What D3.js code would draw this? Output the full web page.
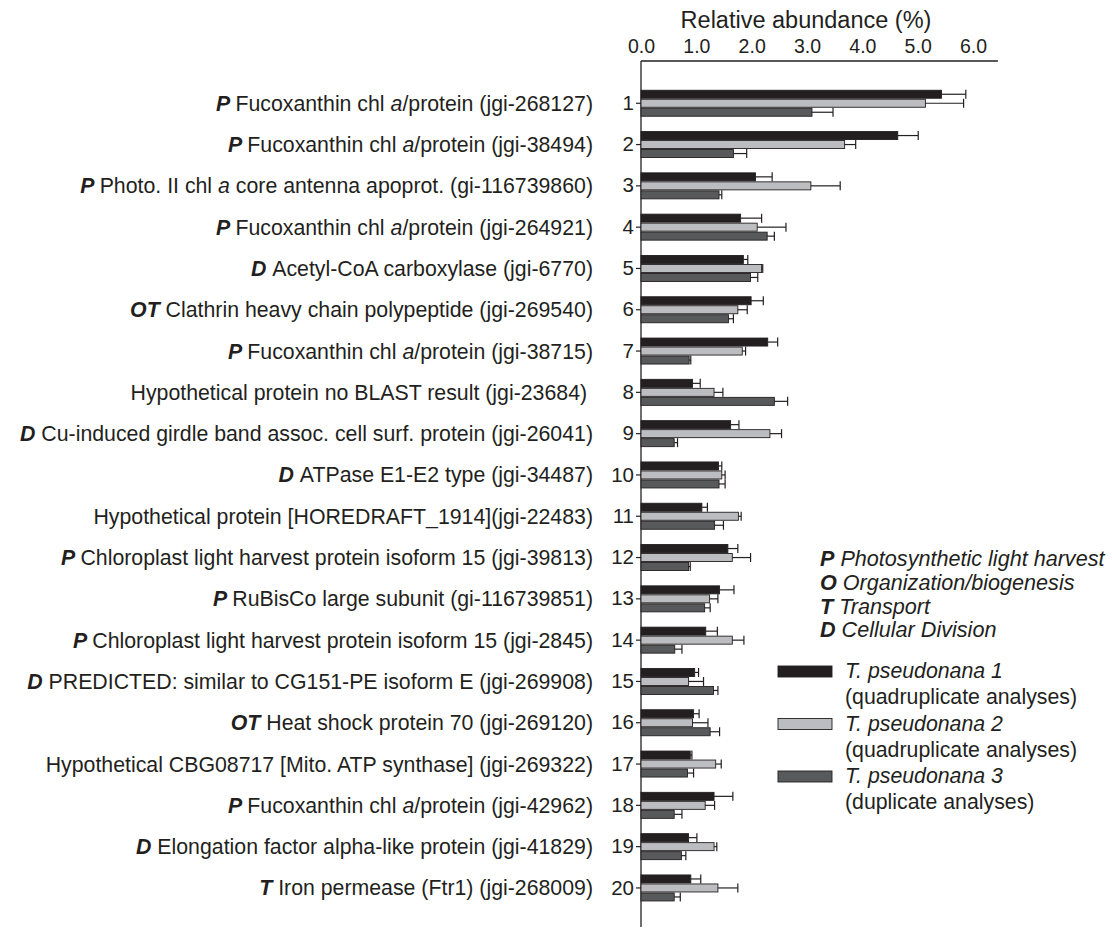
<!DOCTYPE html>
<html>
<head>
<meta charset="utf-8">
<script src="https://cdn.jsdelivr.net/npm/d3@7"></script>
<style>
  body { margin: 0; background: #fff; }
  svg { display: block; }
  text { font-family: "Liberation Sans", Arial, Helvetica, sans-serif; fill: #231f20; }
</style>
</head>
<body>
<svg id="chart"></svg>
<script>
// row numbers, category codes and protein names (asterisks mark italic parts)
const rowIds = d3.range(1, 21);
const rowCodes = ['P', 'P', 'P', 'P', 'D', 'OT', 'P', '', 'D', 'D',
    '', 'P', 'P', 'P', 'D', 'OT', '', 'P', 'D', 'T'];
const rowNames = [
    'Fucoxanthin chl *a*/protein (jgi-268127)',
    'Fucoxanthin chl *a*/protein (jgi-38494)',
    'Photo. II chl *a* core antenna apoprot. (gi-116739860)',
    'Fucoxanthin chl *a*/protein (jgi-264921)',
    'Acetyl-CoA carboxylase (jgi-6770)',
    'Clathrin heavy chain polypeptide (jgi-269540)',
    'Fucoxanthin chl *a*/protein (jgi-38715)',
    'Hypothetical protein no BLAST result (jgi-23684)\u00a0',
    'Cu-induced girdle band assoc. cell surf. protein (jgi-26041)',
    'ATPase E1-E2 type (jgi-34487)',
    'Hypothetical protein [HOREDRAFT_1914](jgi-22483)',
    'Chloroplast light harvest protein isoform 15 (jgi-39813)',
    'RuBisCo large subunit (gi-116739851)',
    'Chloroplast light harvest protein isoform 15 (jgi-2845)',
    'PREDICTED: similar to CG151-PE isoform E (jgi-269908)',
    'Heat shock protein 70 (jgi-269120)',
    'Hypothetical CBG08717 [Mito. ATP synthase] (jgi-269322)',
    'Fucoxanthin chl *a*/protein (jgi-42962)',
    'Elongation factor alpha-like protein (jgi-41829)',
    'Iron permease (Ftr1) (jgi-268009)'
];

// relative abundance (%) and error (+)
const tp1 = [5.43, 4.64, 2.07, 1.80, 1.85, 1.99, 2.29, 0.93, 1.62, 1.40,
    1.10, 1.57, 1.42, 1.17, 0.97, 0.95, 0.89, 1.32, 0.86, 0.90];
const tp1Err = [0.44, 0.37, 0.30, 0.38, 0.08, 0.22, 0.18, 0.14, 0.15, 0.06,
    0.10, 0.18, 0.26, 0.21, 0.07, 0.10, 0.03, 0.34, 0.15, 0.18];
const tp2 = [5.14, 3.68, 3.07, 2.10, 2.18, 1.75, 1.83, 1.32, 2.33, 1.46,
    1.76, 1.65, 1.24, 1.65, 0.86, 0.93, 1.35, 1.16, 1.32, 1.39];
const tp2Err = [0.69, 0.20, 0.53, 0.52, 0.02, 0.17, 0.06, 0.16, 0.21, 0.06,
    0.05, 0.33, 0.15, 0.21, 0.27, 0.28, 0.10, 0.17, 0.05, 0.36];
const tp3 = [3.09, 1.67, 1.41, 2.28, 1.98, 1.58, 0.87, 2.41, 0.60, 1.41,
    1.33, 0.86, 1.15, 0.61, 1.31, 1.25, 0.84, 0.60, 0.73, 0.60];
const tp3Err = [0.38, 0.24, 0.05, 0.13, 0.13, 0.09, 0.03, 0.24, 0.06, 0.11,
    0.16, 0.03, 0.10, 0.13, 0.08, 0.17, 0.11, 0.14, 0.08, 0.11];

const seriesNames = ['T. pseudonana 1', 'T. pseudonana 2', 'T. pseudonana 3'];
const seriesNotes = ['(quadruplicate analyses)', '(quadruplicate analyses)', '(duplicate analyses)'];
const seriesColors = ['#231f20', '#bcbdc0', '#58595b'];

const groupCodes = ['P', 'O', 'T', 'D'];
const groupNames = ['Photosynthetic light harvest', 'Organization/biogenesis', 'Transport', 'Cellular Division'];

const xTicks = [0, 1, 2, 3, 4, 5, 6];
const axisTitle = 'Relative abundance (%)';

const width = 1112;
const height = 928;
const ink = '#231f20';

const svg = d3.select('#chart')
    .attr('width', width)
    .attr('height', height);

const x = d3.scaleLinear()
    .domain([0, 6])
    .range([641, 973]);

const y = d3.scaleBand()
    .domain(rowIds)
    .range([82.6, 908.6]);

const inner = d3.scaleBand()
    .domain([0, 1, 2])
    .range([0, 27]);

const values = [tp1, tp2, tp3];
const errors = [tp1Err, tp2Err, tp3Err];

// top axis
const xAxis = d3.axisTop(x)
    .tickValues(xTicks)
    .tickFormat(d3.format('.1f'))
    .tickSize(0)
    .tickPadding(8);

const gx = svg.append('g')
    .attr('transform', 'translate(0, 61)')
    .call(xAxis);
gx.select('.domain').remove();
gx.selectAll('text')
    .attr('font-size', '19.5px')
    .attr('fill', ink);

svg.append('line')
    .attr('x1', x(0))
    .attr('x2', x(6.45))
    .attr('y1', 61)
    .attr('y2', 61)
    .attr('stroke', ink)
    .attr('stroke-width', 1.3);

svg.append('text')
    .attr('x', 806)
    .attr('y', 28)
    .attr('text-anchor', 'middle')
    .attr('font-size', '23.5px')
    .text(axisTitle);

// left axis with row numbers
const yAxis = d3.axisLeft(y)
    .tickSize(5)
    .tickPadding(2);

const gy = svg.append('g')
    .attr('transform', `translate(${x(0)}, 0)`)
    .call(yAxis);
gy.select('.domain').remove();
gy.selectAll('line').attr('stroke', ink).attr('stroke-width', 1.2);
gy.selectAll('text')
    .attr('font-size', '20.5px')
    .attr('fill', ink);

svg.append('line')
    .attr('x1', x(0))
    .attr('x2', x(0))
    .attr('y1', 61)
    .attr('y2', 927)
    .attr('stroke', ink)
    .attr('stroke-width', 1.3);

// row labels
const labels = svg.append('g')
    .selectAll('text')
    .data(rowIds)
    .join('text')
    .attr('x', 593)
    .attr('y', d => y(d) + y.bandwidth() / 2)
    .attr('dy', '0.35em')
    .attr('text-anchor', 'end')
    .attr('font-size', '21.3px');

labels.each(function (d, i) {
    const t = d3.select(this);
    if (rowCodes[i]) {
        t.append('tspan')
            .attr('font-weight', 'bold')
            .attr('font-style', 'italic')
            .text(rowCodes[i] + ' ');
    }
    rowNames[i].split('*').forEach((part, j) => {
        if (!part) return;
        const sp = t.append('tspan').text(part);
        if (j % 2 === 1) sp.attr('font-style', 'italic');
    });
});

// bars
const offset = (y.bandwidth() - 27) / 2;
values.forEach((vals, s) => {
    const g = svg.append('g');

    g.selectAll('rect')
        .data(rowIds)
        .join('rect')
        .attr('x', x(0))
        .attr('y', d => y(d) + offset + inner(s) + 0.5)
        .attr('width', (d, i) => x(vals[i]) - x(0))
        .attr('height', inner.bandwidth() - 1)
        .attr('fill', seriesColors[s])
        .attr('stroke', ink)
        .attr('stroke-width', 0.9);

    g.selectAll('line.err')
        .data(rowIds)
        .join('line')
        .attr('class', 'err')
        .attr('x1', (d, i) => x(vals[i]))
        .attr('x2', (d, i) => x(vals[i] + errors[s][i]))
        .attr('y1', d => y(d) + offset + inner(s) + inner.bandwidth() / 2)
        .attr('y2', d => y(d) + offset + inner(s) + inner.bandwidth() / 2)
        .attr('stroke', ink)
        .attr('stroke-width', 1.2);

    g.selectAll('line.cap')
        .data(rowIds)
        .join('line')
        .attr('class', 'cap')
        .attr('x1', (d, i) => x(vals[i] + errors[s][i]))
        .attr('x2', (d, i) => x(vals[i] + errors[s][i]))
        .attr('y1', d => y(d) + offset + inner(s))
        .attr('y2', d => y(d) + offset + inner(s) + inner.bandwidth())
        .attr('stroke', ink)
        .attr('stroke-width', 1.2);
});

// legend: category codes
const codeLegend = svg.append('g')
    .selectAll('text')
    .data(groupCodes)
    .join('text')
    .attr('x', 820)
    .attr('y', (d, i) => 566 + i * 23.8)
    .attr('font-size', '21.6px');

codeLegend.append('tspan')
    .attr('font-weight', 'bold')
    .attr('font-style', 'italic')
    .text(d => d);
codeLegend.append('tspan')
    .attr('font-style', 'italic')
    .text((d, i) => ' ' + groupNames[i]);

// legend: series
const seriesLegend = svg.append('g')
    .selectAll('g')
    .data(seriesNames)
    .join('g')
    .attr('transform', (d, i) => `translate(0, ${678 + i * 52.5})`);

seriesLegend.append('rect')
    .attr('x', 778)
    .attr('y', -12)
    .attr('width', 54)
    .attr('height', 11)
    .attr('fill', (d, i) => seriesColors[i])
    .attr('stroke', ink)
    .attr('stroke-width', 0.9);

seriesLegend.append('text')
    .attr('x', 845)
    .attr('font-size', '21.3px')
    .attr('font-style', 'italic')
    .text(d => d);

seriesLegend.append('text')
    .attr('x', 845)
    .attr('y', 26)
    .attr('font-size', '21.3px')
    .text((d, i) => seriesNotes[i]);
</script>
</body>
</html>
